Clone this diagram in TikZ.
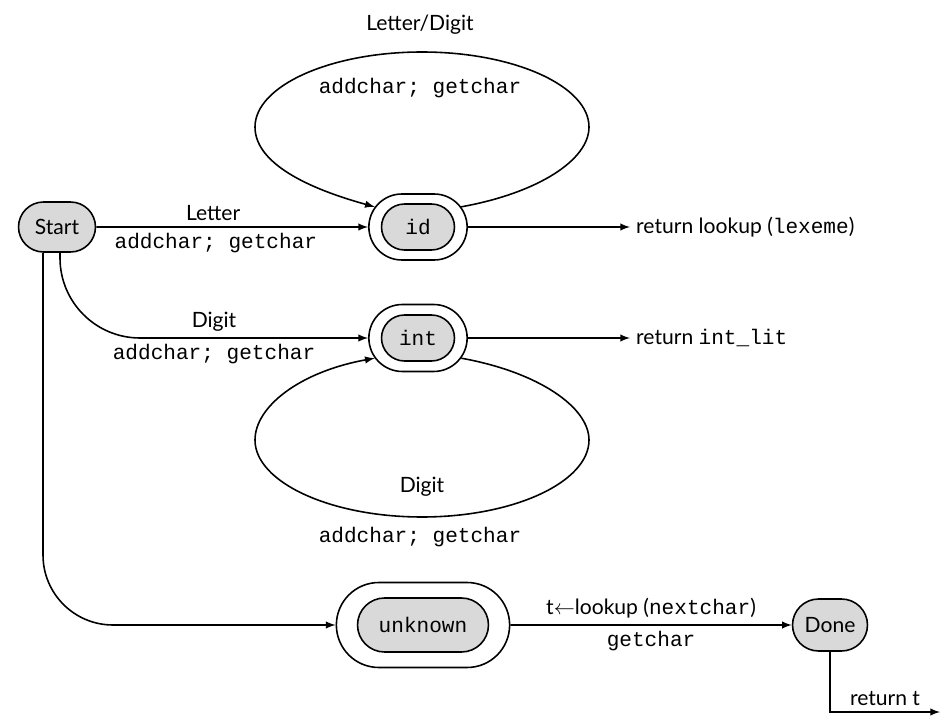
\documentclass[tikz,border=0pt]{standalone}
\usepackage{fontspec}
\setsansfont{Lato}
\setmonofont{Liberation Mono}
\usetikzlibrary{positioning, shapes.misc}

\begin{document}
\begin{tikzpicture}[
    x=0.02cm, y=-0.02cm,
    state/.style={rounded rectangle, draw, fill=gray!30, line width=0.9pt, inner sep=2pt},
    ring/.style={rounded rectangle, draw, line width=0.9pt},
    edge/.style={-latex, line width=0.9pt},
    lbl/.style={font=\sffamily\fontsize{12}{14}\selectfont},
    code/.style={font=\ttfamily\fontsize{12}{14}\selectfont}
]
    \useasboundingbox (0,0) rectangle (943,719);

    % --- STATES ---
    \node[state, lbl, minimum width=1.68cm, minimum height=1cm] (start) at (57,227) {Start};

    \node[state, code, minimum width=1.6cm, minimum height=0.92cm] (id) at (418,227) {id};
    \node[ring, minimum width=2.2cm, minimum height=1.32cm] (id-o) at (id) {};

    \node[state, code, minimum width=1.6cm, minimum height=0.92cm] (int) at (418,338) {int};
    \node[ring, minimum width=2.2cm, minimum height=1.34cm] (int-o) at (int) {};

    \node[state, code, minimum width=2.76cm, minimum height=1.08cm] (unknown) at (423,625) {unknown};
    \node[ring, minimum width=3.7cm, minimum height=1.7cm] (unknown-o) at (unknown) {};

    \node[state, lbl, minimum width=1.64cm, minimum height=1.04cm] (done) at (830,625) {Done};

    % --- RETURN TEXTS ---
    \node[lbl, anchor=west] (ret-id) at (630,227) {return lookup (\texttt{lexeme})};
    \node[lbl, anchor=west] (ret-int) at (630,338) {return \texttt{int\_lit}};
    \coordinate (ret-t) at (940,712);

    % --- TRANSITIONS FROM START ---
    \draw[edge] (start) -- node[lbl, above, pos=.43] {Letter} node[code, below, pos=.44] {addchar; getchar} (id-o);
    \draw[edge, rounded corners=1.6cm] ([xshift=0.06cm]start.south) |- node[lbl, above, pos=.75] {Digit} node[code, below, pos=.75] {addchar; getchar} (int-o.west);
    \draw[edge, rounded corners=1.4cm] ([xshift=-0.28cm]start.south) |- (unknown-o.west);

    % --- LOOPS (elliptic, drawn as four bezier pieces) ---
    \draw[edge] (id-o.25) .. controls (538,193) and (589,160) .. (589,127)
        .. controls (589,86) and (514,52) .. (422,52)
        .. controls (330,52) and (255,86) .. (255,127)
        .. controls (255,160) and (299,186) .. (id-o.155);
    \node[lbl] (id-loop) at (420,25) {Letter/Digit};
    \node[code] at (420,88) {addchar; getchar};

    \draw[edge] (int-o.-25) .. controls (538,372) and (589,407) .. (589,440)
        .. controls (589,482) and (514,517) .. (422,517)
        .. controls (330,517) and (255,482) .. (255,440)
        .. controls (255,407) and (299,372) .. (int-o.-155);
    \node[lbl] (int-loop) at (422,487) {Digit};
    \node[code] at (420,537) {addchar; getchar};

    % --- EXITS ---
    \draw[edge] (id-o) -- (ret-id);
    \draw[edge] (int-o) -- (ret-int);
    \draw[edge] (unknown-o) -- node[lbl, above] {t$\leftarrow$lookup (\texttt{nextchar})} node[code, below] {getchar} (done);
    \draw[edge] (done) |- node[lbl, above, pos=.75] {return t} (ret-t);

\end{tikzpicture}
\end{document}
